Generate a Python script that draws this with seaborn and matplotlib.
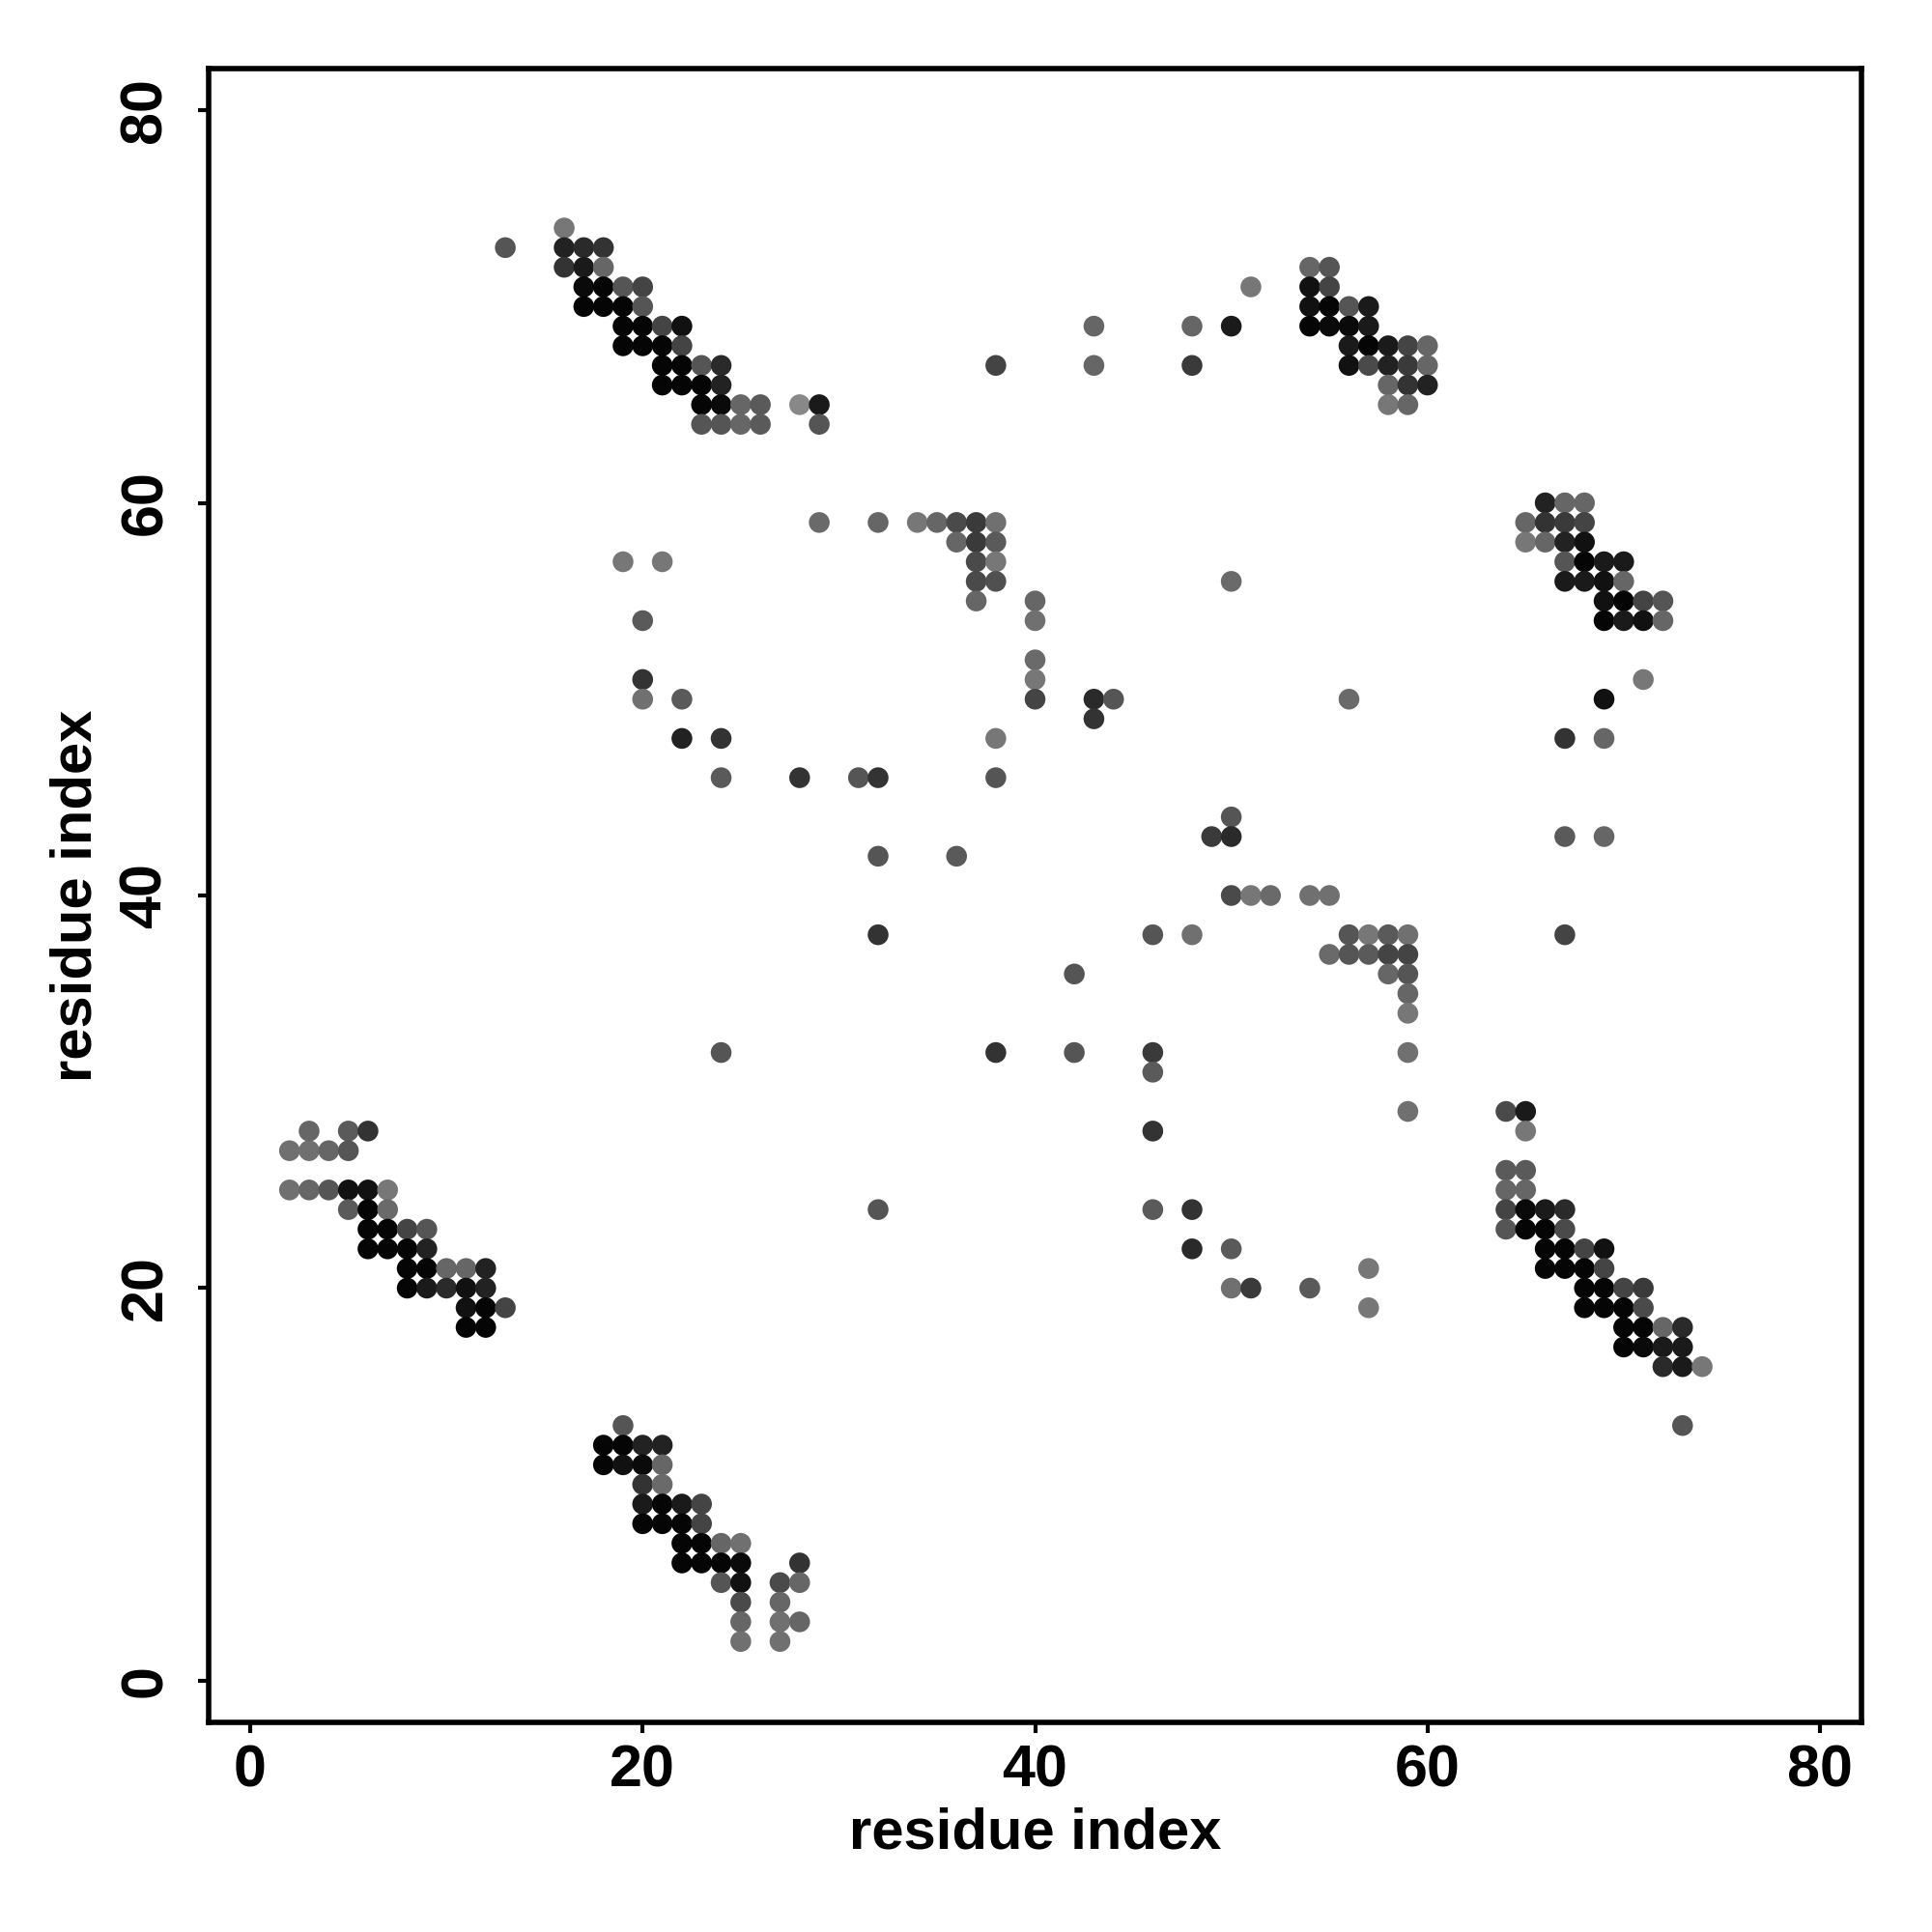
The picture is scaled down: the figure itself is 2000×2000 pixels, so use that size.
import matplotlib
matplotlib.use("Agg")
import matplotlib.pyplot as plt
import seaborn as sns
import pandas as pd

# contacts as (i, j, grey level 0-255), grouped by region of the map
top_left = [
    (13, 73, 85),
    (16, 74, 119),
    (16, 73, 34), (17, 73, 42), (18, 73, 51),
    (16, 72, 51), (17, 72, 26), (18, 72, 102),
    (17, 71, 10), (18, 71, 5), (19, 71, 85), (20, 71, 68),
    (17, 70, 5), (18, 70, 5), (19, 70, 5), (20, 70, 85),
    (19, 69, 5), (20, 69, 5), (21, 69, 68), (22, 69, 17),
    (19, 68, 5), (20, 68, 5), (21, 68, 5), (22, 68, 68),
    (21, 67, 5), (22, 67, 5), (23, 67, 85), (24, 67, 42),
    (21, 66, 5), (22, 66, 5), (23, 66, 5), (24, 66, 34),
    (23, 65, 5), (24, 65, 10), (25, 65, 102), (26, 65, 90), (28, 65, 136), (29, 65, 26),
    (23, 64, 85), (24, 64, 85), (25, 64, 102), (26, 64, 90), (29, 64, 85),
]

top_right = [
    (38, 67, 68), (43, 69, 102), (43, 67, 102), (48, 69, 102), (48, 67, 58),
    (50, 69, 26), (51, 71, 119),
    (54, 72, 102), (55, 72, 85),
    (54, 71, 17), (55, 71, 68),
    (54, 70, 17), (55, 70, 5), (56, 70, 85), (57, 70, 26),
    (54, 69, 5), (55, 69, 10), (56, 69, 10), (57, 69, 26),
    (56, 68, 26), (57, 68, 5), (58, 68, 26), (59, 68, 68), (60, 68, 102),
    (56, 67, 17), (57, 67, 74), (58, 67, 34), (59, 67, 58), (60, 67, 102),
    (58, 66, 102), (59, 66, 51), (60, 66, 34),
    (58, 65, 119), (59, 65, 102),
]

right_upper = [
    (66, 60, 34), (67, 60, 102), (68, 60, 102),
    (65, 59, 102), (66, 59, 51), (67, 59, 58), (68, 59, 68),
    (65, 58, 119), (66, 58, 102), (67, 58, 34), (68, 58, 17),
    (67, 57, 85), (68, 57, 5), (69, 57, 26), (70, 57, 26),
    (67, 56, 26), (68, 56, 26), (69, 56, 17), (70, 56, 102),
    (69, 55, 17), (70, 55, 5), (71, 55, 68), (72, 55, 85),
    (69, 54, 5), (70, 54, 26), (71, 54, 17), (72, 54, 102),
    (71, 51, 119), (69, 50, 17), (67, 48, 51), (69, 48, 102),
    (67, 43, 90), (69, 43, 102), (67, 38, 68),
]

middle_left = [
    (29, 59, 106), (32, 59, 102), (34, 59, 119), (35, 59, 102), (36, 59, 74), (37, 59, 58), (38, 59, 112),
    (36, 58, 102), (37, 58, 58), (38, 58, 90),
    (19, 57, 119), (21, 57, 119), (37, 57, 74), (38, 57, 119),
    (37, 56, 74), (38, 56, 80),
    (37, 55, 102), (40, 55, 102),
    (20, 54, 90), (40, 54, 112),
    (40, 52, 106),
    (20, 51, 51), (40, 51, 119),
    (20, 50, 112), (22, 50, 90), (40, 50, 68),
    (22, 48, 34), (24, 48, 51), (38, 48, 119),
    (24, 46, 90), (28, 46, 51), (31, 46, 85), (32, 46, 51), (38, 46, 85),
    (32, 42, 85), (36, 42, 90), (32, 38, 51),
    (24, 32, 85), (38, 32, 51), (42, 32, 85), (42, 36, 85), (32, 24, 85),
]

middle_right = [
    (50, 56, 106), (43, 50, 42), (44, 50, 85), (43, 49, 51), (56, 50, 106),
    (50, 44, 85), (49, 43, 58), (50, 43, 42),
    (50, 40, 74), (51, 40, 119), (52, 40, 106), (54, 40, 112), (55, 40, 112),
    (46, 38, 85), (48, 38, 112), (56, 38, 85), (57, 38, 119), (58, 38, 90), (59, 38, 112),
    (55, 37, 106), (56, 37, 85), (57, 37, 90), (58, 37, 68), (59, 37, 68),
    (58, 36, 102), (59, 36, 85), (59, 35, 102), (59, 34, 119),
    (46, 32, 58), (59, 32, 112), (46, 31, 90), (59, 29, 112), (46, 28, 51),
    (46, 24, 90), (48, 24, 51), (48, 22, 42), (50, 22, 90), (57, 21, 119),
    (50, 20, 112), (51, 20, 58), (54, 20, 90), (57, 19, 119),
]

lower_left = [
    (3, 28, 102), (5, 28, 90), (6, 28, 51),
    (2, 27, 112), (3, 27, 112), (4, 27, 102), (5, 27, 85),
    (2, 25, 112), (3, 25, 102), (4, 25, 85), (5, 25, 17), (6, 25, 17), (7, 25, 119),
    (5, 24, 90), (6, 24, 5), (7, 24, 106),
    (6, 23, 5), (7, 23, 5), (8, 23, 68), (9, 23, 85),
    (6, 22, 5), (7, 22, 5), (8, 22, 5), (9, 22, 34),
    (8, 21, 5), (9, 21, 5), (10, 21, 102), (11, 21, 102), (12, 21, 34),
    (8, 20, 5), (9, 20, 26), (10, 20, 42), (11, 20, 17), (12, 20, 34),
    (11, 19, 17), (12, 19, 5), (13, 19, 68),
    (11, 18, 5), (12, 18, 5),
]

bottom = [
    (19, 13, 85),
    (18, 12, 5), (19, 12, 5), (20, 12, 34), (21, 12, 34),
    (18, 11, 5), (19, 11, 17), (20, 11, 10), (21, 11, 102),
    (20, 10, 51), (21, 10, 106),
    (20, 9, 26), (21, 9, 5), (22, 9, 26), (23, 9, 68),
    (20, 8, 5), (21, 8, 5), (22, 8, 5), (23, 8, 68),
    (22, 7, 5), (23, 7, 5), (24, 7, 102), (25, 7, 112),
    (22, 6, 5), (23, 6, 5), (24, 6, 5), (25, 6, 10), (28, 6, 51),
    (24, 5, 85), (25, 5, 17), (27, 5, 74), (28, 5, 102),
    (25, 4, 74), (27, 4, 102),
    (25, 3, 102), (27, 3, 112), (28, 3, 102),
    (25, 2, 112), (27, 2, 112),
]

lower_right = [
    (64, 29, 74), (65, 29, 26), (65, 28, 119),
    (64, 26, 90), (65, 26, 90), (64, 25, 102), (65, 25, 102),
    (64, 24, 68), (65, 24, 10), (66, 24, 26), (67, 24, 42),
    (64, 23, 85), (65, 23, 5), (66, 23, 5), (67, 23, 74),
    (66, 22, 5), (67, 22, 5), (68, 22, 68), (69, 22, 17),
    (66, 21, 5), (67, 21, 5), (68, 21, 5), (69, 21, 68),
    (68, 20, 5), (69, 20, 5), (70, 20, 68), (71, 20, 58),
    (68, 19, 5), (69, 19, 5), (70, 19, 5), (71, 19, 74),
    (70, 18, 5), (71, 18, 5), (72, 18, 102), (73, 18, 42),
    (70, 17, 5), (71, 17, 10), (72, 17, 26), (73, 17, 26),
    (72, 16, 42), (73, 16, 26), (74, 16, 119),
    (73, 13, 85),
]

ticks = [0, 20, 40, 60, 80]

df = pd.DataFrame(top_left + top_right + right_upper + middle_left + middle_right
                  + lower_left + bottom + lower_right, columns=["i", "j", "grey"])

sns.set_style("white")
plt.rcParams["font.family"] = ["Liberation Sans", "DejaVu Sans"]
plt.rcParams["font.weight"] = "bold"
plt.rcParams["text.color"] = "black"
plt.rcParams["axes.labelcolor"] = "black"
plt.rcParams["xtick.color"] = "black"
plt.rcParams["ytick.color"] = "black"

fig = plt.figure(figsize=(10, 10), dpi=200)
ax = fig.add_axes([0.108, 0.1085, 0.8555, 0.856])

sns.scatterplot(data=df, x="i", y="j", hue="grey", palette="gray", hue_norm=(0, 255),
                s=60, linewidth=0, legend=False, ax=ax)

ax.set_xlim(-2.12, 82.12)
ax.set_ylim(-2.12, 82.12)
ax.set_xticks(ticks)
ax.set_yticks(ticks)
ax.set_xticklabels([str(t) for t in ticks], fontsize=22, fontweight="bold", color="black")
ax.set_yticklabels([str(t) for t in ticks], fontsize=22, fontweight="bold", color="black",
                   rotation=90, va="center")
ax.tick_params(axis="both", direction="out", length=4, width=1.5, color="black",
               left=True, bottom=True)
ax.tick_params(axis="x", pad=4)
ax.tick_params(axis="y", pad=9)
for sp in ax.spines.values():
    sp.set_color("black")
    sp.set_linewidth(2)

ax.set_xlabel("residue index", fontsize=21.5, fontweight="bold", color="black", labelpad=3)
ax.set_ylabel("residue index", fontsize=21.5, fontweight="bold", color="black", labelpad=6)

fig.savefig("out.png", dpi=200)
